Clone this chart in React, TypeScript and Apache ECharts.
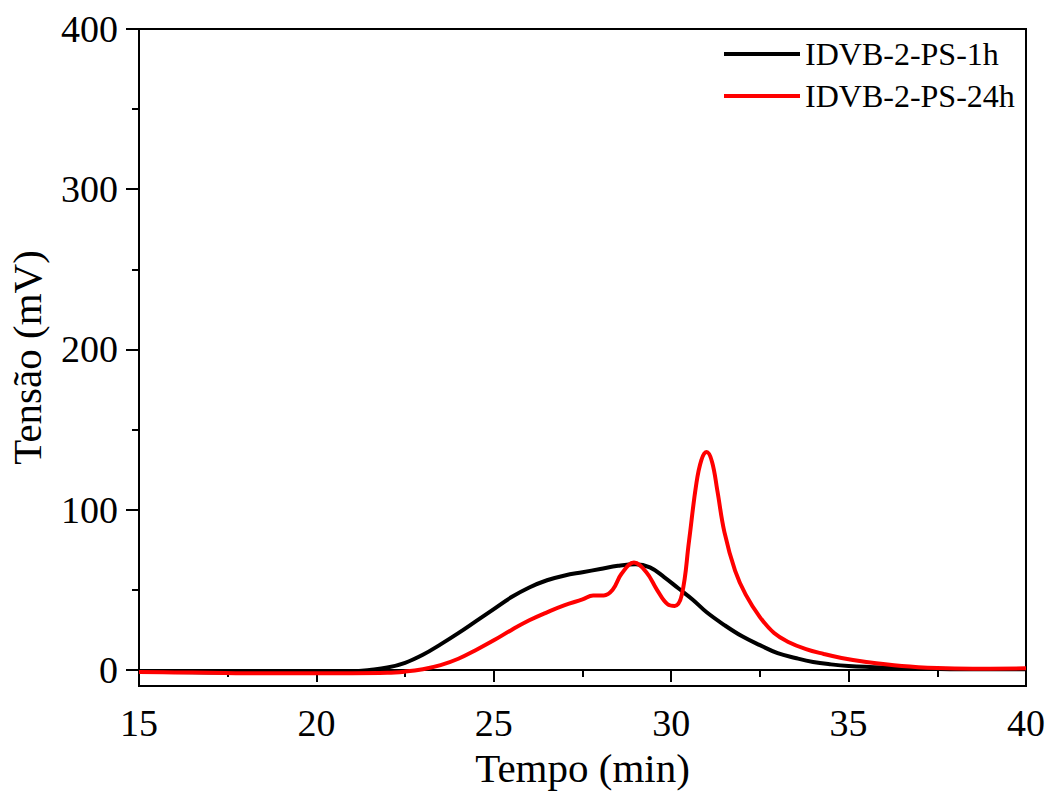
import React, { useEffect, useRef } from "react";
import * as echarts from "echarts";

const seriesNames = ["IDVB-2-PS-1h", "IDVB-2-PS-24h"];
const seriesColors = ["#000000", "#ff0000"];

const t1h = [15, 16, 17, 18, 19, 20, 21, 21.5, 22, 22.5, 23, 23.5, 24, 24.5, 25, 25.5, 26, 26.5, 27, 27.5, 28, 28.5, 29, 29.4, 29.8, 30.2, 30.6, 31, 31.5, 32, 32.5, 33, 33.5, 34, 34.5, 35, 36, 37, 38, 39, 40];
const v1h = [-1, -1.2, -1.5, -1.8, -1.8, -1.6, -1, 0, 1.5, 4.5, 9.5, 16, 23, 30.5, 38, 45.5, 51.5, 56, 59, 61, 63, 65, 66, 64, 58, 51, 44, 36, 28, 21, 15.5, 10.5, 7.5, 5, 3.5, 2.5, 1.5, 1, 0.5, 0.5, 0.5];

const t24h = [15, 16, 17, 18, 19, 20, 21, 22, 22.5, 23, 23.5, 24, 24.5, 25, 25.5, 26, 26.5, 27, 27.5, 27.8, 28.1, 28.35, 28.6, 28.95, 29.3, 29.6, 29.9, 30.1, 30.3, 30.5, 30.7, 30.85, 31, 31.15, 31.3, 31.5, 31.8, 32.1, 32.5, 32.9, 33.3, 33.8, 34.3, 34.8, 35.5, 36.5, 37.5, 38.5, 40];
const v24h = [-1.3, -1.5, -1.7, -2, -2, -2, -2, -1.8, -1, 0.5, 3, 7, 12.5, 18.5, 25, 31, 36, 40.5, 44, 46.5, 46.5, 50, 60, 67, 61, 50, 41, 40, 47, 80, 115, 131, 136, 130, 112, 86, 62, 47, 33, 23, 17.5, 13, 10, 7.5, 5, 2.5, 1.2, 0.8, 1];

const yMajorTicks = [0, 100, 200, 300, 400];
const yMinorTicks = [50, 150, 250, 350];

const FONT = "'Liberation Serif', 'Times New Roman', serif";

export default function App() {
  const ref = useRef<HTMLDivElement>(null);
  useEffect(() => {
    if (!ref.current) return;
    const chart = echarts.init(ref.current, undefined, { renderer: "svg" });
    const zip = (xs: number[], ys: number[]) => xs.map((x, i) => [x, ys[i]]);
    const axisLine = { show: true, lineStyle: { color: "#000", width: 2 } };
    chart.setOption({
      animation: false,
      backgroundColor: "#fff",
      grid: {
        left: 139, right: 22, top: 29, bottom: 105,
        outerBoundsMode: "none", containLabel: false,
        show: true, borderColor: "#000", borderWidth: 2, backgroundColor: "transparent",
      },
      legend: {
        orient: "vertical",
        left: 719,
        top: 33,
        itemWidth: 76,
        itemHeight: 4,
        itemGap: 10,
        icon: "rect",
        data: seriesNames,
        textStyle: { fontFamily: FONT, fontSize: 32, color: "#000", lineHeight: 32 },
      },
      xAxis: {
        type: "value",
        min: 15,
        max: 40,
        interval: 5,
        name: "Tempo (min)",
        nameLocation: "middle",
        nameGap: 61,
        nameTextStyle: { fontFamily: FONT, fontSize: 41, color: "#000" },
        axisLine,
        axisTick: { show: true, inside: false, length: 12, lineStyle: { color: "#000", width: 2 } },
        minorTick: { show: true, splitNumber: 2, length: 7, lineStyle: { color: "#000", width: 2 } },
        axisLabel: { fontFamily: FONT, fontSize: 38, color: "#000", margin: 18 },
        splitLine: { show: false },
      },
      yAxis: [
        {
          type: "value",
          min: -10,
          max: 400,
          name: "Tensão (mV)",
          nameLocation: "middle",
          nameGap: 92,
          nameTextStyle: { fontFamily: FONT, fontSize: 41, color: "#000" },
          axisLine,
          axisTick: { show: true, length: 13, customValues: yMajorTicks, lineStyle: { color: "#000", width: 2 } },
          axisLabel: { fontFamily: FONT, fontSize: 38, color: "#000", margin: 21, customValues: yMajorTicks },
          splitLine: { show: false },
        },
        {
          type: "value",
          min: -10,
          max: 400,
          position: "left",
          axisLine: { show: false },
          axisTick: { show: true, length: 7, customValues: yMinorTicks, lineStyle: { color: "#000", width: 2 } },
          axisLabel: { show: false, customValues: yMinorTicks },
          splitLine: { show: false },
        },
      ],
      series: [
        {
          name: seriesNames[0],
          type: "line",
          data: zip(t1h, v1h),
          smooth: 0.4,
          showSymbol: false,
          lineStyle: { color: seriesColors[0], width: 4 },
          itemStyle: { color: seriesColors[0] },
        },
        {
          name: seriesNames[1],
          type: "line",
          data: zip(t24h, v24h),
          smooth: 0.4,
          showSymbol: false,
          lineStyle: { color: seriesColors[1], width: 4 },
          itemStyle: { color: seriesColors[1] },
        },
      ],
    });
    return () => chart.dispose();
  }, []);
  return <div ref={ref} style={{ width: 1048, height: 791, position: "absolute", left: 0, top: 0 }} />;
}
